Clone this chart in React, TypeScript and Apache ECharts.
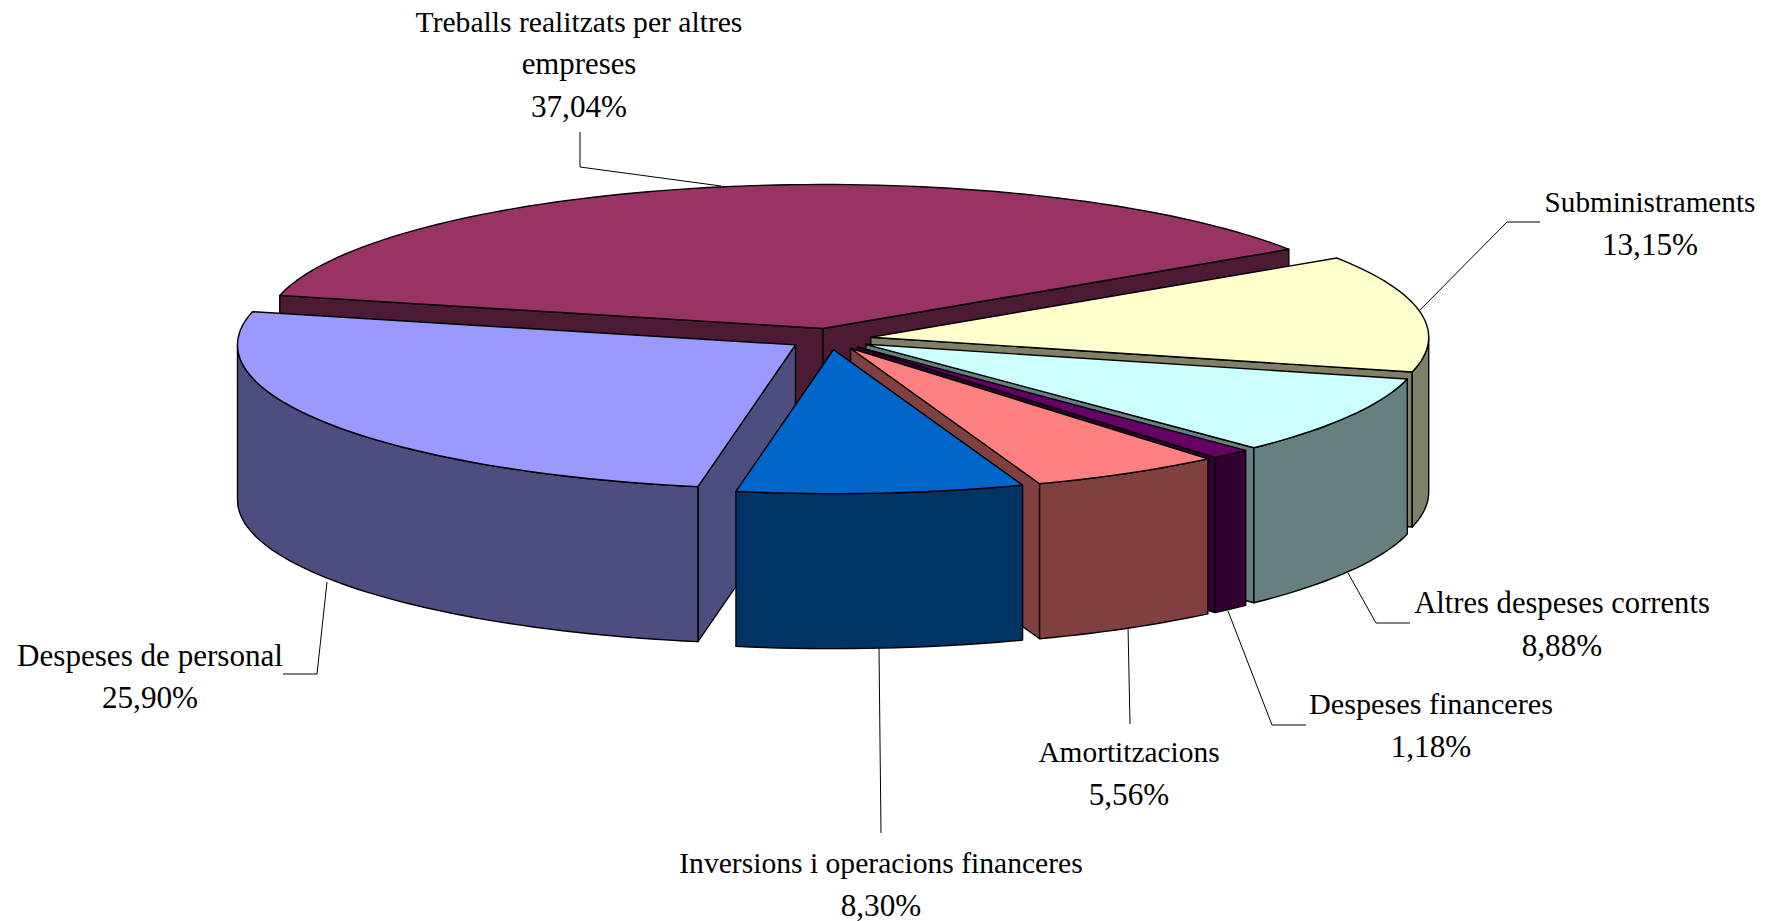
import React, { useEffect, useRef } from "react";
import * as echarts from "echarts";

const names = [
  "Treballs realitzats per altres\nempreses",
  "Subministraments",
  "Altres despeses corrents",
  "Despeses financeres",
  "Amortitzacions",
  "Inversions i operacions financeres",
  "Despeses de personal",
];
const values = [37.04, 13.15, 8.88, 1.18, 5.56, 8.3, 25.9];
const topColors = ["#993366", "#FFFFCC", "#CCFFFF", "#660066", "#FF8080", "#0066CC", "#9999FF"];
const sideColors = ["#4D1A33", "#808066", "#668080", "#330033", "#804040", "#003366", "#4D4D80"];

// layout of the labels, in page pixels: text centre, y of the first line, leader line, font size per name line
const labelX = [579, 1650, 1562, 1431, 1129, 881, 150];
const labelY = [22, 202, 603, 704, 752, 863, 655];
const nameSizes = [[29.6, 30.8], [29.2], [30.6], [30.2], [29.4], [29.6], [31.1]];
const leaders = [
  [[580, 132], [580, 167], [721, 186]],
  [[1540, 222], [1507, 222], [1420, 310]],
  [[1410, 623], [1376, 623], [1348, 573]],
  [[1306, 725], [1272, 725], [1228, 611]],
  [[1130, 724], [1128, 626]],
  [[881, 833], [879, 648]],
  [[283, 674], [317, 674], [327, 582]],
];

const CX = 830;
const CY = 339;
const RX = 558;
const RY = 144;
const DEPTH = 155;
const EXPLODE = 0.074;
const START = -76.7;
const FONT_FAMILY = '"Liberation Serif"';
const PCT_SIZE = 31.2;
const LINE_GAP = 42;
const STROKE = 1.4;

const total = values.reduce((a, b) => a + b, 0);
const spans = values.map((_, i) => {
  const before = values.slice(0, i).reduce((a, b) => a + b, 0);
  return [START + (before / total) * 360, START + ((before + values[i]) / total) * 360];
});
const rad = (d: number) => (d * Math.PI) / 180;
const paintOrder = values
  .map((_, i) => i)
  .sort((a, b) => -Math.cos(rad((spans[a][0] + spans[a][1]) / 2)) + Math.cos(rad((spans[b][0] + spans[b][1]) / 2)));

const arc = (ax: number, ay: number, from: number, to: number) => {
  const n = Math.max(2, Math.ceil(Math.abs(to - from) / 1.5));
  const pts: number[][] = [];
  for (let k = 0; k <= n; k++) {
    const t = rad(from + ((to - from) * k) / n);
    pts.push([ax + RX * Math.sin(t), ay - RY * Math.cos(t)]);
  }
  return pts;
};

const face = (points: number[][], fill: string) => ({
  type: "polygon",
  shape: { points },
  style: { fill, stroke: "#000", lineWidth: STROKE, lineJoin: "round" },
});

const renderSlice = (_: any, api: any) => {
  const i = api.value(0) as number;
  const [s, e] = spans[i];
  const mid = rad((s + e) / 2);
  const ax = CX + RX * EXPLODE * Math.sin(mid);
  const ay = CY - RY * EXPLODE * Math.cos(mid);
  const children: any[] = [];
  const radial = (ang: number) => {
    const p = arc(ax, ay, ang, ang)[0];
    children.push(
      face([[ax, ay], p, [p[0], p[1] + DEPTH], [ax, ay + DEPTH]], sideColors[i])
    );
  };
  if (Math.cos(rad(s - 90)) < 0) radial(s);
  if (Math.cos(rad(e + 90)) < 0) radial(e);
  const from = Math.max(s, 90);
  const to = Math.min(e, 270);
  if (to > from) {
    const upper = arc(ax, ay, from, to);
    const lower = arc(ax, ay + DEPTH, to, from);
    children.push(face([...upper, ...lower], sideColors[i]));
  }
  children.push(face([[ax, ay], ...arc(ax, ay, s, e)], topColors[i]));
  return { type: "group", children };
};

const renderLabel = (_: any, api: any) => {
  const i = api.value(0) as number;
  const pct = values[i].toFixed(2).replace(".", ",") + "%";
  const lines = names[i].split("\n");
  const rows = [
    ...lines.map((text, k) => ({ text, size: nameSizes[i][k] })),
    { text: pct, size: PCT_SIZE },
  ];
  return {
    type: "group",
    children: [
      {
        type: "polyline",
        shape: { points: leaders[i] },
        style: { stroke: "#000", lineWidth: 1, fill: "none" },
      },
      ...rows.map((row, k) => ({
        type: "text",
        style: {
          text: row.text,
          x: labelX[i],
          y: labelY[i] + k * LINE_GAP,
          align: "center",
          verticalAlign: "middle",
          font: `${row.size}px ${FONT_FAMILY}`,
          fill: "#000",
        },
      })),
    ],
  };
};

export default function App() {
  const ref = useRef<HTMLDivElement>(null);
  useEffect(() => {
    const chart = echarts.init(ref.current!, undefined, { renderer: "svg" });
    chart.setOption({
      animation: false,
      backgroundColor: "#fff",
      series: [
        {
          type: "custom",
          coordinateSystem: "none",
          z: 1,
          silent: true,
          renderItem: renderLabel,
          data: values.map((v, i) => [i, v]),
        },
        {
          type: "custom",
          coordinateSystem: "none",
          z: 2,
          silent: true,
          renderItem: renderSlice,
          data: paintOrder.map((i) => ({ name: names[i], value: [i, values[i]] })),
        },
      ],
    });
    return () => chart.dispose();
  }, []);
  return <div ref={ref} style={{ position: "fixed", left: 0, top: 0, width: 1767, height: 921 }} />;
}
